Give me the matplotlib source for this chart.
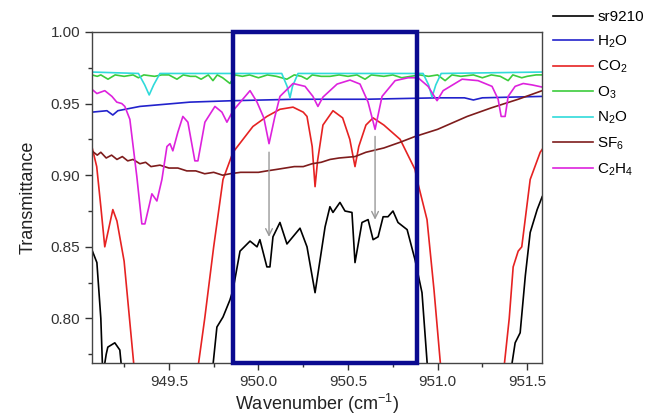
import matplotlib
matplotlib.use("Agg")
import matplotlib.pyplot as plt
from matplotlib.patches import Rectangle

plt.rcParams['font.family'] = ['Liberation Sans', 'DejaVu Sans']
plt.rcParams['mathtext.fontset'] = 'custom'
plt.rcParams['mathtext.rm'] = 'Liberation Sans'
plt.rcParams['mathtext.it'] = 'Liberation Sans:italic'

# ---------------- data ----------------
sr_x = [949.07, 949.098, 949.12, 949.131, 949.15, 949.159, 949.198, 949.226, 949.24, 949.5,
        949.74, 949.768, 949.802, 949.841, 949.858, 949.897, 949.953, 949.992, 950.008, 950.047,
        950.064, 950.081, 950.120, 950.159, 950.232, 950.271, 950.316, 950.372, 950.399, 950.416,
        950.455, 950.483, 950.522, 950.539, 950.578, 950.612, 950.640, 950.668, 950.696, 950.723,
        950.751, 950.779, 950.830, 950.874, 950.913, 950.947, 951.2, 951.405, 951.433, 951.461,
        951.49, 951.517, 951.556, 951.584]
sr_y = [0.848, 0.839, 0.800, 0.760, 0.775, 0.780, 0.783, 0.778, 0.760, 0.700,
        0.760, 0.794, 0.801, 0.813, 0.820, 0.847, 0.854, 0.850, 0.855, 0.836,
        0.836, 0.857, 0.867, 0.852, 0.863, 0.850, 0.818, 0.864, 0.878, 0.874,
        0.881, 0.875, 0.874, 0.839, 0.867, 0.869, 0.855, 0.857, 0.871, 0.871,
        0.875, 0.867, 0.862, 0.841, 0.818, 0.760, 0.700, 0.760, 0.783, 0.790,
        0.830, 0.860, 0.876, 0.885]

h2o_x = [949.07, 949.154, 949.187, 949.215, 949.338, 949.617, 949.858, 950.2, 950.6, 951.0,
         951.15, 951.2, 951.25, 951.584]
h2o_y = [0.944, 0.945, 0.942, 0.945, 0.948, 0.951, 0.952, 0.953, 0.953, 0.954,
         0.954, 0.9525, 0.954, 0.955]

co2_x = [949.07, 949.097, 949.12, 949.142, 949.187, 949.21, 949.25, 949.28, 949.31, 949.5,
         949.656, 949.70, 949.75, 949.802, 949.858, 949.969, 950.047, 950.12, 950.193, 950.25,
         950.271, 950.30, 950.316, 950.33, 950.36, 950.416, 950.47, 950.51, 950.539, 950.56,
         950.60, 950.640, 950.70, 950.791, 950.874, 950.885, 950.941, 950.98, 951.014, 951.03,
         951.2, 951.366, 951.40, 951.422, 951.45, 951.47, 951.50, 951.517, 951.573, 951.584]
co2_y = [0.920, 0.906, 0.878, 0.850, 0.876, 0.868, 0.840, 0.800, 0.760, 0.600,
         0.760, 0.800, 0.850, 0.897, 0.916, 0.934, 0.941, 0.946, 0.9475, 0.944,
         0.941, 0.920, 0.892, 0.910, 0.935, 0.945, 0.940, 0.925, 0.906, 0.920,
         0.935, 0.940, 0.935, 0.925, 0.904, 0.897, 0.869, 0.820, 0.771, 0.750,
         0.600, 0.760, 0.800, 0.836, 0.847, 0.850, 0.880, 0.897, 0.916, 0.918]

o3_x = [949.07, 949.10, 949.12, 949.16, 949.2, 949.25, 949.3, 949.33, 949.36, 949.42,
        949.46, 949.5, 949.545, 949.58, 949.62, 949.65, 949.68, 949.72, 949.746, 949.77,
        949.80, 949.841, 949.87, 949.91, 949.95, 950.0, 950.05, 950.1, 950.159, 950.2,
        950.24, 950.271, 950.3, 950.35, 950.4, 950.45, 950.5, 950.55, 950.595, 950.63,
        950.7, 950.75, 950.8, 950.85, 950.9, 950.95, 951.0, 951.042, 951.08, 951.13,
        951.2, 951.25, 951.3, 951.35, 951.394, 951.42, 951.47, 951.5, 951.55, 951.584]
o3_y = [0.970, 0.969, 0.970, 0.967, 0.970, 0.969, 0.970, 0.968, 0.970, 0.969,
        0.970, 0.970, 0.967, 0.970, 0.969, 0.969, 0.967, 0.970, 0.966, 0.970,
        0.968, 0.964, 0.970, 0.969, 0.970, 0.968, 0.970, 0.969, 0.967, 0.970,
        0.969, 0.967, 0.970, 0.969, 0.969, 0.970, 0.969, 0.970, 0.967, 0.970,
        0.969, 0.970, 0.968, 0.969, 0.970, 0.969, 0.970, 0.966, 0.970, 0.969,
        0.970, 0.968, 0.970, 0.969, 0.966, 0.970, 0.968, 0.969, 0.970, 0.970]

n2o_x = [949.07, 949.33, 949.365, 949.39, 949.415, 949.45, 950.13, 950.16, 950.176, 950.19,
         950.221, 950.919, 950.95, 950.969, 950.99, 951.02, 951.584]
n2o_y = [0.972, 0.971, 0.963, 0.956, 0.963, 0.971, 0.971, 0.962, 0.954, 0.962,
         0.971, 0.971, 0.963, 0.9545, 0.963, 0.971, 0.972]

sf6_x = [949.07, 949.1, 949.12, 949.15, 949.18, 949.21, 949.24, 949.27, 949.3, 949.338,
         949.37, 949.4, 949.45, 949.5, 949.55, 949.6, 949.65, 949.7, 949.75, 949.8,
         949.841, 949.9, 949.95, 950.0, 950.047, 950.1, 950.15, 950.2, 950.25, 950.3,
         950.35, 950.4, 950.45, 950.539, 950.6, 950.7, 950.791, 950.874, 951.0, 951.165,
         951.3, 951.45, 951.584]
sf6_y = [0.917, 0.914, 0.916, 0.912, 0.914, 0.911, 0.913, 0.910, 0.911, 0.908,
         0.909, 0.906, 0.907, 0.905, 0.905, 0.903, 0.903, 0.901, 0.902, 0.900,
         0.901, 0.902, 0.902, 0.902, 0.903, 0.904, 0.905, 0.906, 0.906, 0.908,
         0.909, 0.911, 0.912, 0.913, 0.916, 0.919, 0.923, 0.927, 0.932, 0.941,
         0.947, 0.953, 0.959]

c2h4_x = [949.07, 949.098, 949.142, 949.182, 949.209, 949.237, 949.254, 949.282, 949.321, 949.349,
          949.366, 949.394, 949.405, 949.433, 949.461, 949.489, 949.506, 949.522, 949.55, 949.578,
          949.606, 949.645, 949.662, 949.701, 949.757, 949.796, 949.824, 949.858, 949.953, 949.992,
          950.03, 950.059, 950.09, 950.12, 950.193, 950.260, 950.304, 950.332, 950.360, 950.439,
          950.511, 950.567, 950.612, 950.651, 950.690, 950.763, 950.835, 950.891, 950.947, 950.997,
          951.031, 951.137, 951.226, 951.304, 951.338, 951.355, 951.377, 951.394, 951.433, 951.478,
          951.528, 951.584]
c2h4_y = [0.960, 0.957, 0.959, 0.955, 0.951, 0.950, 0.948, 0.939, 0.899, 0.866,
          0.866, 0.881, 0.887, 0.882, 0.897, 0.920, 0.922, 0.917, 0.930, 0.941,
          0.937, 0.910, 0.910, 0.937, 0.948, 0.944, 0.937, 0.945, 0.959, 0.951,
          0.940, 0.922, 0.940, 0.955, 0.964, 0.962, 0.955, 0.948, 0.9545, 0.9636,
          0.9664, 0.9636, 0.951, 0.932, 0.955, 0.966, 0.968, 0.968, 0.962, 0.952,
          0.959, 0.967, 0.966, 0.962, 0.953, 0.941, 0.941, 0.955, 0.962, 0.964,
          0.963, 0.9615]

box_x = [949.858, 950.885]
arrow1 = (950.059, 0.918, 0.855)
arrow2 = (950.651, 0.929, 0.867)

# ---------------- figure ----------------
fig = plt.figure(figsize=(6.47, 4.2), dpi=100)
ax = fig.add_axes([0.142, 0.136, 0.696, 0.788])

lw = 1.2
ax.plot(sr_x, sr_y, color="black", lw=lw, label="sr9210")
ax.plot(h2o_x, h2o_y, color="#2222cc", lw=lw, label="H$_2$O")
ax.plot(co2_x, co2_y, color="#e62222", lw=lw, label="CO$_2$")
ax.plot(o3_x, o3_y, color="#3ccc3c", lw=lw, label="O$_3$")
ax.plot(n2o_x, n2o_y, color="#30dada", lw=lw, label="N$_2$O")
ax.plot(sf6_x, sf6_y, color="#7e1c1c", lw=lw, label="SF$_6$")
ax.plot(c2h4_x, c2h4_y, color="#dd22dd", lw=lw, label="C$_2$H$_4$")

ax.set_xlim(949.07, 951.584)
ax.set_ylim(0.769, 1.0)

ylo, yhi = ax.get_ylim()
ax.add_patch(Rectangle((box_x[0], ylo), box_x[1] - box_x[0], yhi - ylo, fill=False,
                       edgecolor="#0a0a90", lw=3.2, clip_on=False, zorder=5))

for (xa, y0, y1) in (arrow1, arrow2):
    ax.annotate("", xy=(xa, y1), xytext=(xa, y0),
                arrowprops=dict(arrowstyle="->", color="#999999", lw=1.0,
                                mutation_scale=12), zorder=4)

ax.set_xticks([949.5, 950.0, 950.5, 951.0, 951.5])
ax.set_xticks([949.25, 949.75, 950.25, 950.75, 951.25], minor=True)
ax.set_yticks([0.80, 0.85, 0.90, 0.95, 1.00])
ax.set_yticks([0.775, 0.825, 0.875, 0.925, 0.975], minor=True)
ax.xaxis.set_major_formatter(matplotlib.ticker.FormatStrFormatter("%.1f"))
ax.yaxis.set_major_formatter(matplotlib.ticker.FormatStrFormatter("%.2f"))
ax.tick_params(which="major", direction="out", length=5, width=1, labelsize=11,
               colors="#333333", labelcolor="#333333")
ax.tick_params(which="minor", direction="out", length=3, width=1, colors="#333333")
for s in ax.spines.values():
    s.set_color("#444444")
    s.set_linewidth(1.0)

ax.set_xlabel("Wavenumber (cm$^{-1}$)", fontsize=13, color="#222222", labelpad=2)
ax.set_ylabel("Transmittance", fontsize=13, color="#222222", labelpad=10)

ax.legend(loc="upper left", bbox_to_anchor=(1.01, 1.084), frameon=False, fontsize=11,
          handlelength=2.6, handletextpad=0.3, labelspacing=0.6, borderaxespad=0)

fig.savefig("out.png", dpi=100)
